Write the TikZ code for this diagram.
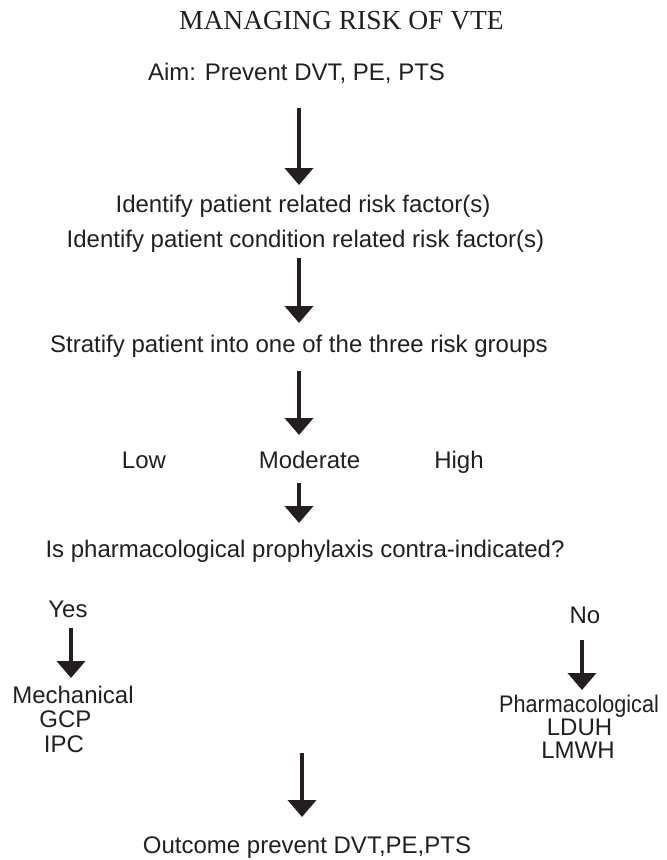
\documentclass[tikz,border=0pt]{standalone}
\usepackage{fontspec}
\setmainfont{Liberation Sans}
\newfontfamily\titlefont{Liberation Serif}
\usetikzlibrary{arrows.meta}
\definecolor{ink}{RGB}{35,31,32}
\tikzset{
  txt/.style={anchor=base, inner sep=0pt, text=ink, font=\fontsize{24}{24}\selectfont},
  ttl/.style={anchor=base, inner sep=0pt, text=ink, font=\titlefont\fontsize{27.5}{27.5}\selectfont},
  bigarrow/.style={draw=ink, line width=4pt, -{Triangle[width=28pt,length=17pt]}}
}
\begin{document}
\begin{tikzpicture}[x=1pt,y=-1pt]
\useasboundingbox (0,0) rectangle (667,860);
% texts
\node[ttl] (title) at (341.5,29) {MANAGING RISK OF VTE};
\node[txt] (aim) at (296.5,80) {Aim: Prevent DVT, PE, PTS};
\node[txt] (id1) at (303,212) {Identify patient related risk factor(s)};
\node[txt] (id2) at (305.5,247) {Identify patient condition related risk factor(s)};
\node[txt] (strat) at (299,352) {Stratify patient into one of the three risk groups};
\node[txt] (low) at (144,468) {Low};
\node[txt] (mod) at (309.5,468) {Moderate};
\node[txt] (high) at (459,468) {High};
\node[txt] (q) at (305,557) {Is pharmacological prophylaxis contra-indicated?};
\node[txt] (yes) at (68,617) {Yes};
\node[txt] (no) at (585,623) {No};
\node[txt] (mech) at (73,703) {Mechanical};
\node[txt] (gcp) at (65.5,727) {GCP};
\node[txt] (ipc) at (64,752) {IPC};
\node[txt] (pharm) at (579,712) {\scalebox{0.9}[1]{Pharmacological}};
\node[txt] (lduh) at (579.5,735) {LDUH};
\node[txt] (lmwh) at (578,758) {LMWH};
\node[txt] (out) at (307,853) {Outcome prevent DVT,PE,PTS};
% arrow end points
\coordinate (a1s) at (299,108);  \coordinate (a1e) at (299,185);
\coordinate (a2s) at (299,258);  \coordinate (a2e) at (299,323);
\coordinate (a3s) at (299,371);  \coordinate (a3e) at (299,435);
\coordinate (a4s) at (299,483);  \coordinate (a4e) at (299,523);
\coordinate (ays) at (71,628);   \coordinate (aye) at (71,678);
\coordinate (ans) at (582,640);  \coordinate (ane) at (582,690);
\coordinate (aos) at (302,753);  \coordinate (aoe) at (302,817);
% arrows
\draw[bigarrow] (a1s) -- (a1e);
\draw[bigarrow] (a2s) -- (a2e);
\draw[bigarrow] (a3s) -- (a3e);
\draw[bigarrow] (a4s) -- (a4e);
\draw[bigarrow] (ays) -- (aye);
\draw[bigarrow] (ans) -- (ane);
\draw[bigarrow] (aos) -- (aoe);
\end{tikzpicture}
\end{document}
